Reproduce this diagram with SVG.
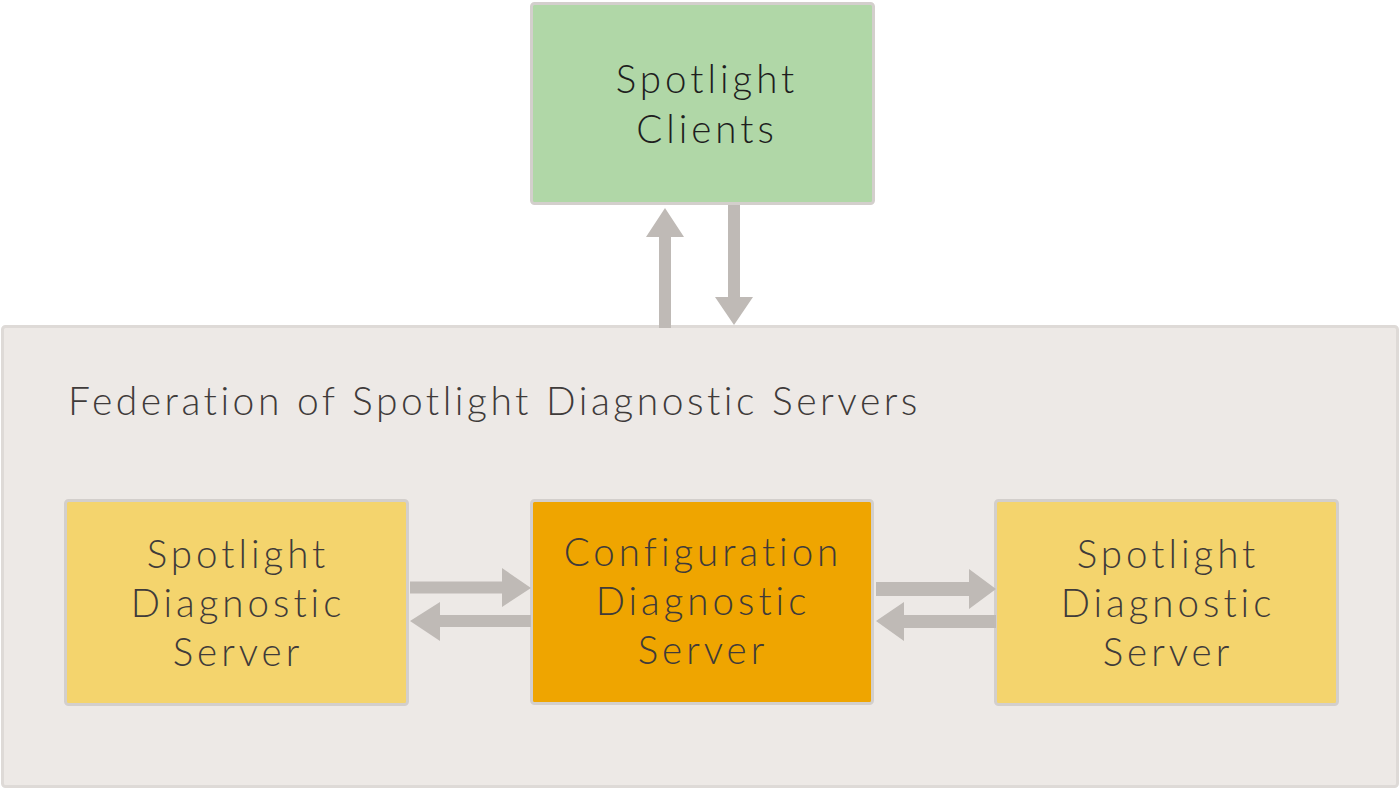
<svg xmlns="http://www.w3.org/2000/svg" width="1400" height="791" viewBox="0 0 1400 791">
<defs>
<style>
.box{stroke:#d3cfcc;stroke-width:3}
.t{font-family:Lato,"Open Sans","Liberation Sans",sans-serif;font-weight:300;font-size:38.5px;fill:#3f3b3a;text-anchor:middle;letter-spacing:4px}
.arr{fill:#bfbab6}
</style>
</defs>
<rect width="1400" height="791" fill="#ffffff"/>
<g id="federation">
<rect x="2.5" y="326.5" width="1395" height="460" rx="3" fill="#ede9e6" stroke="#dedad7" stroke-width="3"/>
<text x="68" y="415" style="font-family:Lato,'Open Sans','Liberation Sans',sans-serif;font-weight:300;font-size:39px;fill:#3f3b3a;letter-spacing:3.5px">Federation of Spotlight Diagnostic Servers</text>
</g>
<g id="clients">
<rect class="box" x="531.5" y="3.5" width="342" height="200" rx="3" fill="#b0d7a7"/>
<text class="t" x="707" y="93" style="fill:#1e1e1e">Spotlight</text>
<text class="t" x="707" y="143" style="fill:#1e1e1e">Clients</text>
</g>
<g id="server-left">
<rect class="box" x="65.5" y="500.5" width="342" height="204" rx="3" fill="#f4d46d"/>
<text class="t" x="238" y="568">Spotlight</text>
<text class="t" x="238" y="617">Diagnostic</text>
<text class="t" x="238" y="666">Server</text>
</g>
<g id="config-server">
<rect class="box" x="531.5" y="500.5" width="341" height="203" rx="3" fill="#efa500"/>
<text class="t" x="703" y="566">Configuration</text>
<text class="t" x="703" y="615">Diagnostic</text>
<text class="t" x="703" y="664">Server</text>
</g>
<g id="server-right">
<rect class="box" x="995.5" y="500.5" width="342" height="204" rx="3" fill="#f4d46d"/>
<text class="t" x="1168" y="568">Spotlight</text>
<text class="t" x="1168" y="617">Diagnostic</text>
<text class="t" x="1168" y="666">Server</text>
</g>
<g id="connectors" class="arr">
<polygon points="659,328 659,237 646,237 665,208 684,237 671,237 671,328"/>
<polygon points="728,205 728,297 715,297 734,325 753,297 740,297 740,205"/>
<polygon points="410,581.5 502,581.5 502,568 531,588 502,607 502,593.5 410,593.5"/>
<polygon points="531,615 440,615 440,602 410,621 440,641 440,627 531,627"/>
<polygon points="876,582 969,582 969,569 996,589 969,609 969,596 876,596"/>
<polygon points="996,615 904,615 904,602 876,621 904,641 904,628 996,628"/>
</g>
</svg>
